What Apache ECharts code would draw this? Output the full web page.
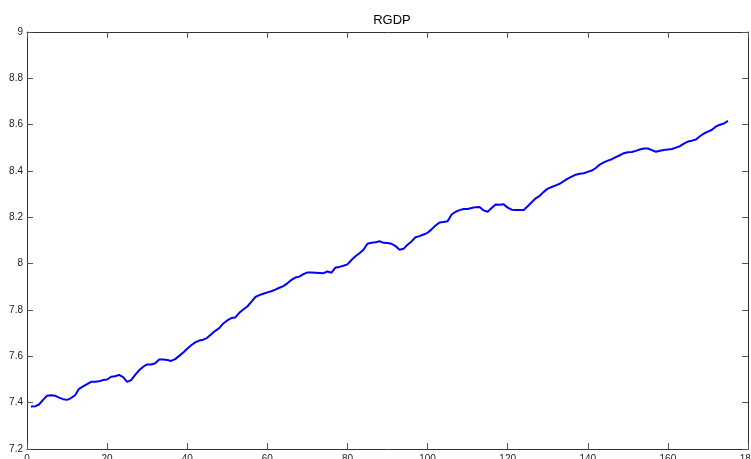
<!DOCTYPE html>
<html>
<head>
<meta charset="utf-8">
<title>RGDP</title>
<script src="https://cdn.jsdelivr.net/npm/echarts@6/dist/echarts.min.js"></script>
<style>
  html, body { margin: 0; padding: 0; background: #fff; overflow: hidden; }
  #chart { width: 751px; height: 459px; }
</style>
</head>
<body>
<div id="chart"></div>
<script>
// Log real GDP, quarterly observations 1..175
const rgdp = [
  7.383, 7.384, 7.392, 7.412, 7.430, 7.432, 7.430, 7.422, 7.415, 7.412,
  7.420, 7.432, 7.460, 7.470, 7.480, 7.490, 7.490, 7.492, 7.498, 7.500,
  7.512, 7.514, 7.520, 7.510, 7.490, 7.497, 7.520, 7.540, 7.555, 7.565,
  7.565, 7.570, 7.586, 7.586, 7.584, 7.580, 7.588, 7.602, 7.617, 7.633,
  7.648, 7.660, 7.668, 7.672, 7.680, 7.695, 7.710, 7.722, 7.742, 7.755,
  7.765, 7.768, 7.788, 7.802, 7.815, 7.835, 7.856, 7.864, 7.870, 7.876,
  7.881, 7.888, 7.896, 7.903, 7.915, 7.930, 7.940, 7.944, 7.955, 7.962,
  7.962, 7.961, 7.960, 7.959, 7.966, 7.961, 7.983, 7.986, 7.991, 7.997,
  8.016, 8.032, 8.045, 8.060, 8.086, 8.090, 8.092, 8.097, 8.090, 8.089,
  8.086, 8.076, 8.060, 8.064, 8.082, 8.096, 8.114, 8.119, 8.126, 8.133,
  8.148, 8.165, 8.178, 8.180, 8.183, 8.212, 8.224, 8.231, 8.236, 8.236,
  8.240, 8.244, 8.245, 8.230, 8.224, 8.240, 8.255, 8.254, 8.256, 8.242,
  8.233, 8.232, 8.232, 8.232, 8.248, 8.265, 8.282, 8.293, 8.310, 8.324,
  8.331, 8.338, 8.345, 8.356, 8.367, 8.376, 8.384, 8.388, 8.390, 8.396,
  8.402, 8.413, 8.428, 8.437, 8.445, 8.451, 8.460, 8.468, 8.477, 8.481,
  8.482, 8.487, 8.493, 8.497, 8.497, 8.490, 8.483, 8.487, 8.491, 8.493,
  8.495, 8.501, 8.507, 8.518, 8.527, 8.531, 8.536, 8.550, 8.562, 8.570,
  8.578, 8.592, 8.600, 8.605, 8.616
];

// Axis ranges and tick spacing
const xRange = [0, 180];
const xStep = 20;
const yRange = [7.2, 9];
const yStep = 0.2;

const points = rgdp.map((v, i) => [i + 1, v]);

const axisColor = '#333333';
const tickColor = '#555555';
const labelFont = { color: '#222222', fontSize: 10, fontFamily: 'Liberation Sans, Arial, sans-serif' };

function boxAxis(extra) {
  return Object.assign({
    type: 'value',
    axisLine: { show: true, onZero: false, lineStyle: { color: axisColor, width: 1 } },
    axisTick: { show: true, inside: true, length: 6, lineStyle: { color: tickColor, width: 1 } },
    splitLine: { show: false }
  }, extra);
}

const chart = echarts.init(document.getElementById('chart'), null, { renderer: 'canvas' });
chart.setOption({
  animation: false,
  backgroundColor: '#ffffff',
  title: {
    text: 'RGDP',
    left: 387,
    top: 9,
    textAlign: 'center',
    textStyle: { color: '#000000', fontSize: 13, fontWeight: 'normal', fontFamily: 'Liberation Sans, Arial, sans-serif' }
  },
  // the plot box is fixed; tick labels may run past the canvas edge
  grid: { left: 27, right: 3, top: 32, bottom: 10, containLabel: false, outerBoundsMode: 'none' },
  xAxis: [
    boxAxis({
      position: 'bottom', min: xRange[0], max: xRange[1], interval: xStep,
      axisLabel: Object.assign({ show: true, margin: 5, hideOverlap: false }, labelFont)
    }),
    boxAxis({
      position: 'top', min: xRange[0], max: xRange[1], interval: xStep,
      axisLabel: { show: false }
    })
  ],
  yAxis: [
    boxAxis({
      position: 'left', min: yRange[0], max: yRange[1], interval: yStep,
      axisLabel: Object.assign({
        show: true, margin: 4,
        formatter: v => String(Math.round(v * 10) / 10)
      }, labelFont)
    }),
    boxAxis({
      position: 'right', min: yRange[0], max: yRange[1], interval: yStep,
      axisLabel: { show: false }
    })
  ],
  series: [{
    name: 'RGDP',
    type: 'line',
    xAxisIndex: 0,
    yAxisIndex: 0,
    data: points,
    showSymbol: false,
    smooth: false,
    lineStyle: { color: '#0000ff', width: 2 },
    itemStyle: { color: '#0000ff' }
  }]
});
</script>
</body>
</html>
